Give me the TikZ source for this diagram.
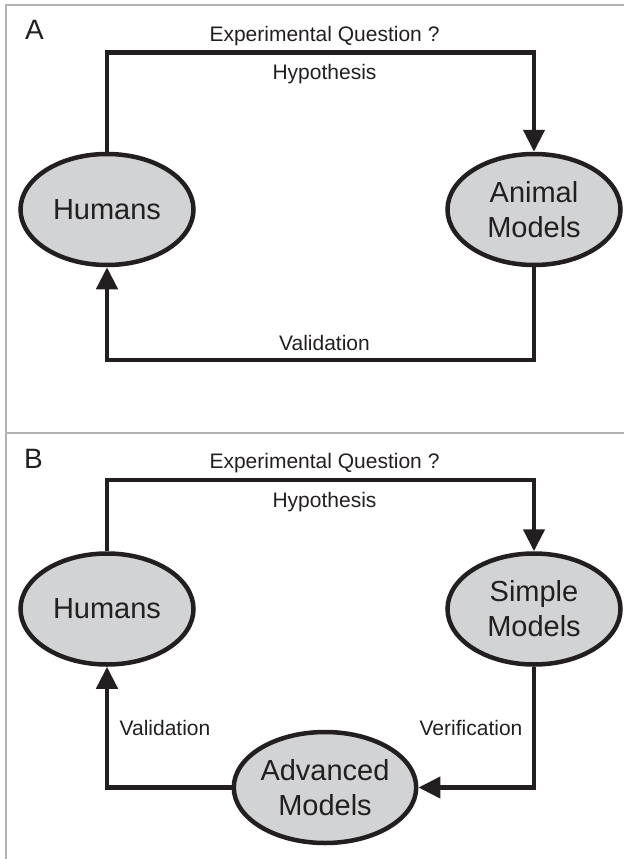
\documentclass[tikz,border=0pt]{standalone}
\usepackage{fontspec}
\setmainfont{Liberation Sans}
\usetikzlibrary{shapes.geometric,arrows.meta}
\definecolor{ink}{HTML}{231F20}
\definecolor{blobfill}{HTML}{D1D3D4}
\definecolor{framegray}{HTML}{B3B3B3}
\begin{document}
\begin{tikzpicture}[x=1pt,y=-1pt,
  blob/.style={ellipse, draw=ink, fill=blobfill, line width=4.5pt, minimum width=173pt, minimum height=111pt, inner sep=0pt, align=center, font=\fontsize{29}{35}\selectfont, text=ink},
  lbl/.style={font=\fontsize{21}{25}\selectfont, text=ink, anchor=base, inner sep=0pt},
  panel/.style={font=\fontsize{28}{32}\selectfont, text=ink, anchor=base west, inner sep=0pt},
  conn/.style={draw=ink, line width=4.5pt},
  tip/.style={-{Triangle[length=22pt,width=21pt]}},
  frame/.style={draw=framegray, line width=1.5pt}]
\useasboundingbox (0,0) rectangle (624,859);
% frames
\draw[frame] (624,5) -- (6,5) -- (6,859);
\draw[frame] (6,433) -- (624,433);
% Panel A
\node[panel] (labA) at (25,40) {A};
\node[lbl] (eqA) at (324.5,41.5) {Experimental Question ?};
\node[lbl] (hypA) at (324.5,80) {Hypothesis};
\node[lbl] (valA) at (324.5,350) {Validation};
\node[blob] (humA) at (107,209.5) {Humans};
\node[blob] (aniA) at (534,209.5) {Animal\\Models};
\coordinate (topA) at (324.5,52.5);
\coordinate (botA) at (324.5,360);
\draw[conn,tip] (humA.north) |- (topA) -| (aniA.north);
\draw[conn,tip] (aniA.south) |- (botA) -| (humA.south);
% Panel B
\node[panel] (labB) at (24,468) {B};
\node[lbl] (eqB) at (324.5,468) {Experimental Question ?};
\node[lbl] (hypB) at (324.5,507) {Hypothesis};
\node[lbl] (valB) at (165,735) {Validation};
\node[lbl] (verB) at (471,735) {Verification};
\node[blob] (humB) at (107,609) {Humans};
\node[blob] (simB) at (534,609) {Simple\\Models};
\node[blob] (advB) at (325,787.5) {Advanced\\Models};
\coordinate (topB) at (324.5,480);
\draw[conn,tip] (humB.north) |- (topB) -| (simB.north);
\draw[conn,tip] (simB.south) |- (advB.east);
\draw[conn,tip] (advB.west) -| (humB.south);
\end{tikzpicture}
\end{document}
